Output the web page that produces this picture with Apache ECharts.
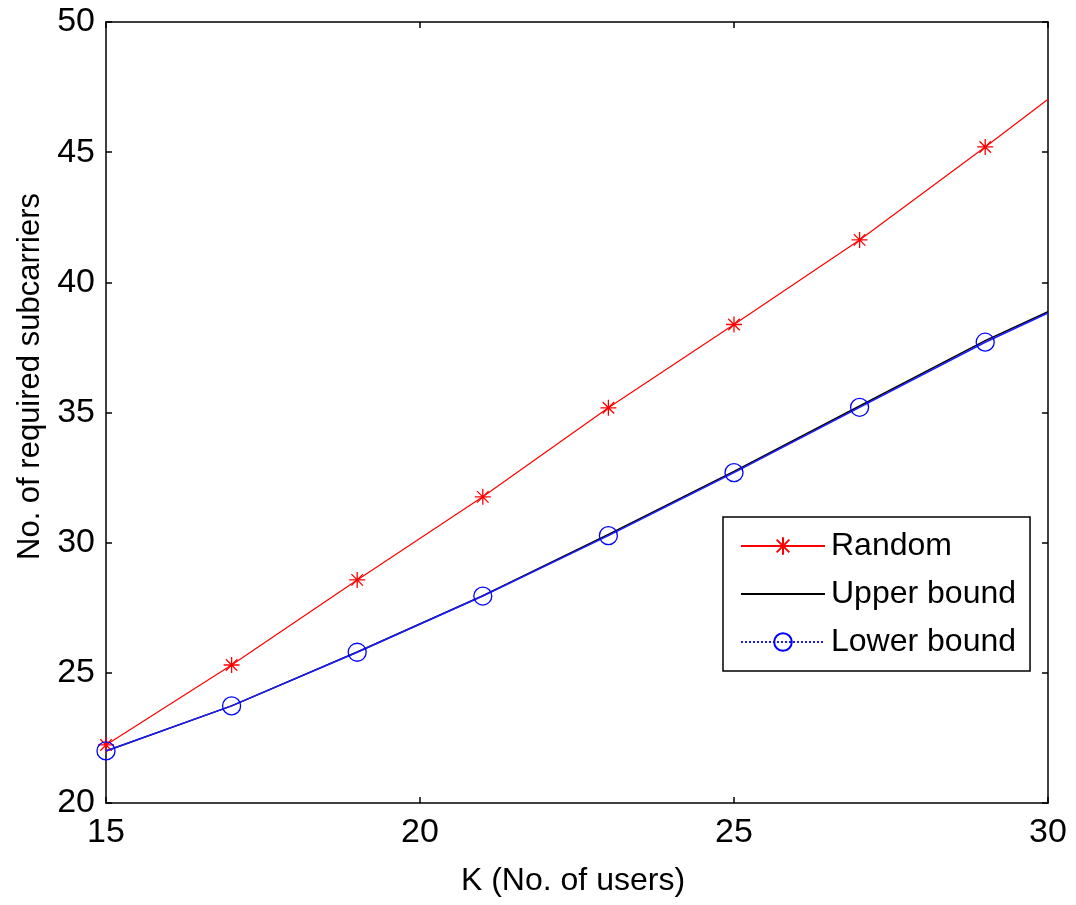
<!DOCTYPE html>
<html>
<head>
<meta charset="utf-8">
<script src="https://cdn.jsdelivr.net/npm/echarts@6/dist/echarts.min.js"></script>
<style>
html,body{margin:0;padding:0;background:#fff;}
#chart{width:1076px;height:905px;}
</style>
</head>
<body>
<div id="chart"></div>
<script>
// Data
const kValues = [15, 17, 19, 21, 23, 25, 27, 29, 30];
const randomVals = [22.23, 25.30, 28.57, 31.76, 35.18, 38.38, 41.63, 45.20, 47.03];
const upperVals = [22.00, 23.73, 25.80, 27.96, 30.32, 32.74, 35.25, 37.76, 38.87];
const lowerVals = [22.00, 23.73, 25.79, 27.95, 30.27, 32.69, 35.20, 37.70, 38.82];
const xTicks = [15, 20, 25, 30];
const yTicks = [20, 25, 30, 35, 40, 45, 50];
const seriesNames = ['Random', 'Upper bound', 'Lower bound'];

const markerEvery = kValues.map(k => k % 2 === 1);
function toData(vals) {
  return kValues.map((k, i) => markerEvery[i] ? [k, vals[i]] : {value: [k, vals[i]], symbol: 'none'});
}

const FONT = 'Liberation Sans, Arial, sans-serif';
const asterisk = 'path://M0,-1L0,1M-1,0L1,0M-0.72,-0.72L0.72,0.72M-0.72,0.72L0.72,-0.72';

const axisCommon = {
  type: 'value',
  axisLine: {show: true, onZero: false, lineStyle: {color: '#000', width: 1.5}},
  axisTick: {show: true, inside: true, length: 6, lineStyle: {color: '#000', width: 1.5}},
  splitLine: {show: false}
};

const chart = echarts.init(document.getElementById('chart'), null, {renderer: 'canvas'});
chart.setOption({
  backgroundColor: '#fff',
  animation: false,
  grid: {left: 106, right: 28, top: 22, bottom: 102, containLabel: false},
  legend: {
    orient: 'vertical',
    left: 723, top: 517,
    padding: [13, 14, 13, 17],
    backgroundColor: '#fff',
    borderColor: '#000', borderWidth: 1.5,
    itemWidth: 84, itemHeight: 22, itemGap: 16,
    textStyle: {fontFamily: FONT, fontSize: 32, color: '#000', padding: [0, 0, 0, 1]},
    data: [
      {name: seriesNames[0]},
      {name: seriesNames[1]},
      {name: seriesNames[2], lineStyle: {type: 'dotted', width: 2}}
    ]
  },
  xAxis: [
    Object.assign({}, axisCommon, {
      position: 'bottom', min: xTicks[0], max: xTicks[xTicks.length - 1], interval: 5,
      name: 'K (No. of users)', nameLocation: 'middle', nameGap: 62,
      nameTextStyle: {fontFamily: FONT, fontSize: 32, color: '#000', padding: [0, 8, 0, 0]},
      axisLabel: {fontFamily: FONT, fontSize: 34, color: '#000', margin: 13}
    }),
    Object.assign({}, axisCommon, {
      position: 'top', min: xTicks[0], max: xTicks[xTicks.length - 1], interval: 5,
      axisLabel: {show: false}
    })
  ],
  yAxis: [
    Object.assign({}, axisCommon, {
      position: 'left', min: yTicks[0], max: yTicks[yTicks.length - 1], interval: 5,
      name: 'No. of required subcarriers', nameLocation: 'middle', nameGap: 58,
      nameTextStyle: {fontFamily: FONT, fontSize: 31, color: '#000', padding: [0, 0, 0, 72]},
      axisLabel: {fontFamily: FONT, fontSize: 34, color: '#000', margin: 11}
    }),
    Object.assign({}, axisCommon, {
      position: 'right', min: yTicks[0], max: yTicks[yTicks.length - 1], interval: 5,
      axisLabel: {show: false}
    })
  ],
  series: [
    {
      name: seriesNames[0], type: 'line', data: toData(randomVals),
      symbol: asterisk, symbolSize: 16, showAllSymbol: true,
      lineStyle: {color: '#ff0000', width: 1.2},
      itemStyle: {color: '#ff0000', borderColor: '#ff0000', borderWidth: 1.3},
      z: 3
    },
    {
      name: seriesNames[1], type: 'line', data: toData(upperVals),
      symbol: 'circle', symbolSize: 0, showSymbol: false,
      lineStyle: {color: '#000', width: 1.5},
      itemStyle: {color: 'rgba(0,0,0,0)', borderWidth: 0},
      z: 2
    },
    {
      name: seriesNames[2], type: 'line', data: toData(lowerVals),
      symbol: 'circle', symbolSize: 18, showAllSymbol: true,
      lineStyle: {color: '#1a1aff', width: 1.5},
      itemStyle: {color: 'rgba(0,0,0,0)', borderColor: '#0000ff', borderWidth: 1.3},
      z: 4
    }
  ]
});
</script>
</body>
</html>
